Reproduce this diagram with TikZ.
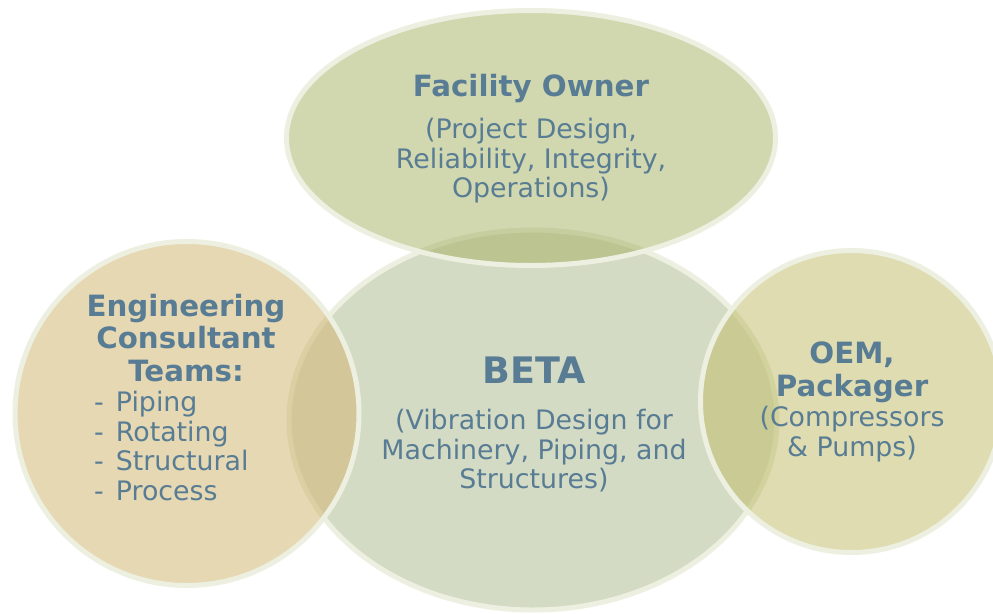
\documentclass[tikz,border=0pt]{standalone}
\usepackage{fontspec}
\setmainfont{DejaVu Sans}
\definecolor{topfill}{RGB}{209,215,174}
\definecolor{betafill}{RGB}{212,219,196}
\definecolor{leftfill}{RGB}{230,216,179}
\definecolor{rightfill}{RGB}{222,220,176}
\definecolor{topover}{RGB}{188,197,146}
\definecolor{leftover}{RGB}{211,199,153}
\definecolor{rightover}{RGB}{202,203,148}
\definecolor{topfaint}{RGB}{198,206,160}
\definecolor{leftfaint}{RGB}{219,207,163}
\definecolor{rightfaint}{RGB}{210,210,158}
\definecolor{rimcol}{RGB}{237,240,225}
\definecolor{txtcol}{RGB}{88,124,148}
\begin{document}
\begin{tikzpicture}[x=1pt,y=-1pt,
  rim/.style={draw=rimcol,line width=5pt},
  faintrim/.style={line width=5pt},
  titletext/.style={text=txtcol,inner sep=0pt,align=center,font=\bfseries\fontsize{29.3}{32.5}\selectfont},
  bodytext/.style={text=txtcol,inner sep=0pt,align=center,font=\fontsize{26.8}{29.5}\selectfont},
  bigtext/.style={text=txtcol,inner sep=0pt,font=\bfseries\fontsize{36.5}{40}\selectfont}]
\useasboundingbox (0,0) rectangle (993,613);
\clip (0,0) rectangle (993,613);
\fill[white] (0,0) rectangle (993,613);
% BETA
\path[fill=betafill] (533,420) ellipse [x radius=244, y radius=190];
\path[rim] (533,420) ellipse [x radius=244, y radius=190];
% left circle
\fill[leftfill] (187,413.5) circle [radius=172];
\begin{scope}
  \clip (187,413.5) circle [radius=172];
  \fill[leftover] (533,420) ellipse [x radius=244, y radius=190];
  \draw[faintrim,draw=leftfaint] (533,420) ellipse [x radius=244, y radius=190];
\end{scope}
\draw[rim] (187,413.5) circle [radius=172];
% right circle
\fill[rightfill] (851.5,401.5) circle [radius=151];
\begin{scope}
  \clip (851.5,401.5) circle [radius=151];
  \fill[rightover] (533,420) ellipse [x radius=244, y radius=190];
  \draw[faintrim,draw=rightfaint] (533,420) ellipse [x radius=244, y radius=190];
\end{scope}
\draw[rim] (851.5,401.5) circle [radius=151];
% top ellipse
\fill[topfill] (531,138) ellipse [x radius=244.5, y radius=127.5];
\begin{scope}
  \clip (531,138) ellipse [x radius=244.5, y radius=127.5];
  \fill[topover] (533,420) ellipse [x radius=244, y radius=190];
  \draw[faintrim,draw=topfaint] (533,420) ellipse [x radius=244, y radius=190];
\end{scope}
\draw[rim] (531,138) ellipse [x radius=244.5, y radius=127.5];
% texts
\node[titletext] (ownertitle) at (531,88.5) {Facility Owner};
\node[bodytext] (ownerbody) at (531,161) {(Project Design,\\Reliability, Integrity,\\Operations)};
\node[titletext] (engtitle) at (186,338) {Engineering\\Consultant\\Teams:};
\node[bodytext,align=left,anchor=west] (englist) at (94,446) {-\hspace{0.45em}Piping\\-\hspace{0.45em}Rotating\\-\hspace{0.45em}Structural\\-\hspace{0.45em}Process};
\node[bigtext] (betatitle) at (534,370) {BETA};
\node[bodytext] (betabody) at (534,451) {(Vibration Design for\\Machinery, Piping, and\\Structures)};
\node[titletext] (oemtitle) at (852,372.5) {OEM,\\Packager};
\node[bodytext] (oembody) at (852,434) {(Compressors\\\& Pumps)};
\end{tikzpicture}
\end{document}
